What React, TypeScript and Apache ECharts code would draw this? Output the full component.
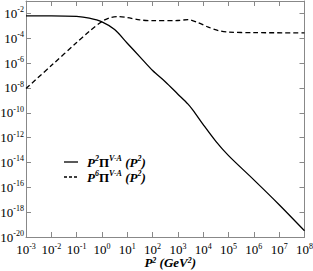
import React, { useEffect, useRef } from 'react';
import * as echarts from 'echarts';

const solidX = [1e-3, 1e-2, 1e-1, 0.316, 1, 3.16, 10, 31.6, 100, 316, 1000, 2512, 3981, 1e4, 3.16e4, 1e5, 1e6, 1e7, 1e8];
const solidY = [6.46e-3, 6.46e-3, 5.75e-3, 4.17e-3, 2.09e-3, 5.0e-4, 3.98e-5, 3.16e-6, 2.51e-7, 3.16e-8, 3.16e-9, 5.0e-10, 1.58e-10, 1.12e-11, 5.0e-13, 3.55e-14, 3.98e-16, 3.98e-18, 3.16e-20];

const dashedX = [1e-3, 1e-2, 1e-1, 0.316, 1, 2, 4.47, 10, 31.6, 100, 1000, 2512, 6310, 1.585e4, 3.98e4, 1e5, 1e6, 1e8];
const dashedY = [8.9e-9, 6.3e-7, 4.47e-5, 3.55e-4, 2.24e-3, 4.47e-3, 5.6e-3, 4.68e-3, 3.0e-3, 2.63e-3, 2.69e-3, 3.16e-3, 1.78e-3, 7.9e-4, 4.17e-4, 3.16e-4, 2.82e-4, 2.75e-4];

const xTickExponents = [-3, -2, -1, 0, 1, 2, 3, 4, 5, 6, 7, 8];
const yTickExponents = [-20, -18, -16, -14, -12, -10, -8, -6, -4, -2];

const FONT = '"Liberation Serif", "Times New Roman", serif';

const richLabel = {
  b: { fontFamily: FONT, fontSize: 13, color: '#000' },
  s: { fontFamily: FONT, fontSize: 8, color: '#000', padding: [0, 0, 7, 0] },
};

function expLabel(v: number, allowed: number[]) {
  const e = Math.round(Math.log10(v));
  if (allowed.indexOf(e) < 0) return '';
  return `{b|10}{s|${e}}`;
}

const boldRich = {
  p: { fontFamily: FONT, fontSize: 13, fontWeight: 'bold', fontStyle: 'italic', color: '#000' },
  q: { fontFamily: FONT, fontSize: 13, fontWeight: 'bold', color: '#000' },
  s: { fontFamily: FONT, fontSize: 8, fontWeight: 'bold', fontStyle: 'italic', color: '#000', padding: [0, 0, 7, 0] },
};

const titleRich = {
  p: { fontFamily: FONT, fontSize: 13, fontWeight: 'bold', fontStyle: 'italic', color: '#000' },
  s: { fontFamily: FONT, fontSize: 8, fontWeight: 'bold', fontStyle: 'italic', color: '#000', padding: [0, 0, 5, 0] },
};

export default function App() {
  const ref = useRef<HTMLDivElement>(null);
  useEffect(() => {
    const chart = echarts.init(ref.current!, undefined, { renderer: 'svg' });
    const axisLine = { show: true, lineStyle: { color: '#888', width: 1 } };
    const axisTick = { show: true, inside: true, length: 5, lineStyle: { color: '#888', width: 1 } };
    chart.setOption({
      animation: false,
      backgroundColor: '#fff',
      textStyle: { fontFamily: FONT },
      grid: { left: 26, right: 8.5, top: 1, bottom: 34, containLabel: false, outerBoundsMode: 'none' },
      xAxis: [
        {
          type: 'log', logBase: 10, min: 1e-3, max: 1e8, interval: 1,
          axisLine, axisTick, splitLine: { show: false },
          axisLabel: { margin: 5, fontFamily: FONT, formatter: (v: number) => expLabel(v, xTickExponents), rich: richLabel },
          name: '{p|P}{s|2}{p| (GeV}{s|2}{p|)}',
          nameLocation: 'middle', nameGap: 19, nameMoveOverlap: false,
          nameTextStyle: { fontFamily: FONT, rich: titleRich, padding: [0, 0, 0, 10] },
        },
        {
          type: 'log', logBase: 10, min: 1e-3, max: 1e8, interval: 1, position: 'top',
          axisLine, axisTick, axisLabel: { show: false }, splitLine: { show: false },
        },
      ],
      yAxis: [
        {
          type: 'log', logBase: 10, min: 1e-20, max: 1e-1, interval: 2,
          axisLine, axisTick, splitLine: { show: false },
          axisLabel: { margin: 2, fontFamily: FONT, formatter: (v: number) => expLabel(v, yTickExponents), rich: richLabel },
        },
        {
          type: 'log', logBase: 10, min: 1e-20, max: 1e-1, interval: 2, position: 'right',
          axisLine, axisTick, axisLabel: { show: false }, splitLine: { show: false },
        },
      ],
      series: [
        {
          type: 'line', name: 'P2', data: solidX.map((x, i) => [x, solidY[i]]),
          showSymbol: false, smooth: 0.3, lineStyle: { color: '#000', width: 1.3 },
        },
        {
          type: 'line', name: 'P6', data: dashedX.map((x, i) => [x, dashedY[i]]),
          showSymbol: false, smooth: 0.3, lineStyle: { color: '#000', width: 1.3, type: [5, 3] },
        },
      ],
      graphic: [
        { type: 'line', shape: { x1: 64, y1: 162, x2: 78, y2: 162 }, style: { stroke: '#000', lineWidth: 1.3 } },
        { type: 'line', shape: { x1: 64, y1: 177, x2: 78, y2: 177 }, style: { stroke: '#000', lineWidth: 1.3, lineDash: [3, 2] } },
        {
          type: 'text', x: 87, y: 162,
          style: {
            text: '{p|P}{s|2}{q|Π}{s|V-A}{p| (P}{s|2}{p|)}',
            verticalAlign: 'middle', fontFamily: FONT,
            rich: boldRich,
          },
        },
        {
          type: 'text', x: 87, y: 177,
          style: {
            text: '{p|P}{s|6}{q|Π}{s|V-A}{p| (P}{s|2}{p|)}',
            verticalAlign: 'middle', fontFamily: FONT,
            rich: boldRich,
          },
        },
      ],
    });
    return () => chart.dispose();
  }, []);
  return <div ref={ref} style={{ position: 'fixed', left: 0, top: 0, width: 313, height: 271 }} />;
}
